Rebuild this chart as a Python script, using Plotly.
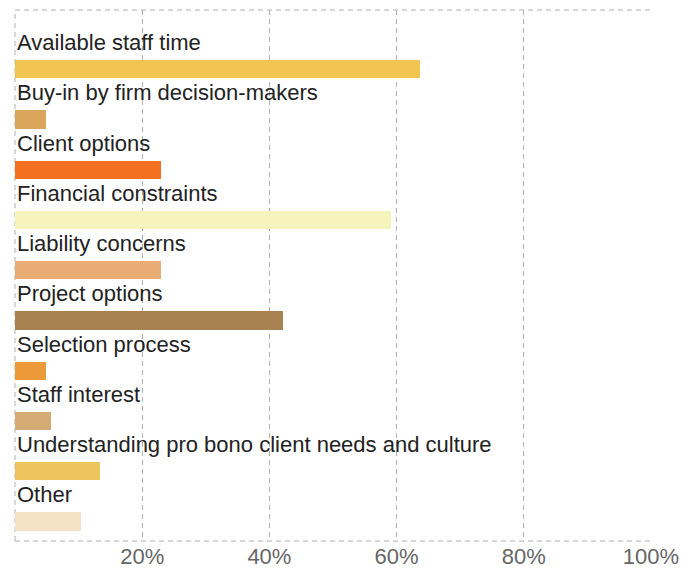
import plotly.graph_objects as go

categories = [
    "Available staff time",
    "Buy-in by firm decision-makers",
    "Client options",
    "Financial constraints",
    "Liability concerns",
    "Project options",
    "Selection process",
    "Staff interest",
    "Understanding pro bono client needs and culture",
    "Other",
]
values = [63.7, 4.8, 23.0, 59.1, 23.0, 42.2, 4.8, 5.7, 13.3, 10.4]
colors = ["#F2C552", "#D9A65B", "#F37021", "#F7F3BD", "#E9AC75",
          "#A88250", "#EC993A", "#D5AA75", "#EEC45D", "#F4E2C4"]
tick_vals = [0, 20, 40, 60, 80, 100]
tick_text = ["", "20%", "40%", "60%", "80%", "100%"]

positions = list(range(len(categories)))

fig = go.Figure()
fig.add_trace(go.Bar(
    x=values, y=positions, orientation="h",
    marker=dict(color=colors, line=dict(width=0)),
    width=0.365, hoverinfo="x+text", hovertext=categories,
))

for i, c in enumerate(categories):
    fig.add_annotation(
        x=0, y=i - 0.53, xref="x", yref="y", text=c, showarrow=False,
        xanchor="left", yanchor="middle", xshift=0,
        font=dict(family="Liberation Sans, Arial, sans-serif", size=22, color="#222222"),
    )

grid_col = "#b0b0b0"
dash = "5px,4px"
for yy in (0, 1):
    fig.add_shape(type="line", xref="paper", yref="paper", x0=0, x1=1, y0=yy, y1=yy,
                  line=dict(color=grid_col, width=1, dash=dash), layer="below")
fig.add_shape(type="line", xref="paper", yref="paper", x0=0, x1=0, y0=0, y1=1,
              line=dict(color=grid_col, width=1, dash=dash), layer="below")

fig.update_layout(
    width=691, height=579,
    margin=dict(l=15, r=40, t=10, b=27),
    paper_bgcolor="white", plot_bgcolor="white",
    showlegend=False, bargap=0,
    xaxis=dict(range=[0, 100], tickvals=tick_vals, ticktext=tick_text,
               showgrid=True, gridcolor=grid_col, griddash=dash, gridwidth=1,
               zeroline=False, showline=False, ticks="",
               tickfont=dict(family="Liberation Sans, Arial, sans-serif", size=22, color="#666666")),
    yaxis=dict(range=[9.39, -1.18], showgrid=False, zeroline=False,
               showticklabels=False, showline=False, ticks=""),
)

fig.write_html("out.html")
